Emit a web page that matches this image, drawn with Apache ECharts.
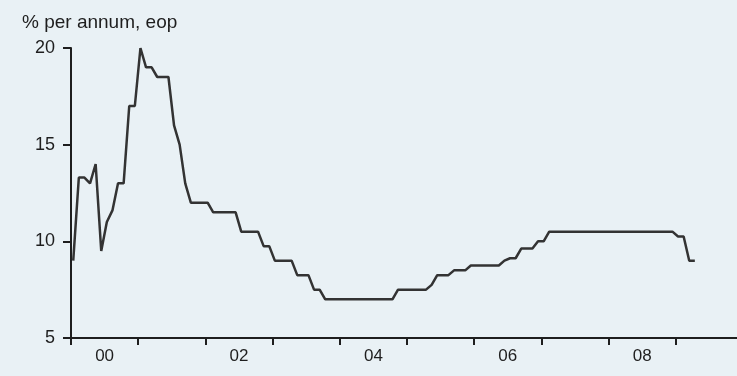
<!DOCTYPE html>
<html>
<head>
<meta charset="utf-8">
<script src="https://cdn.jsdelivr.net/npm/echarts@6/dist/echarts.min.js"></script>
<style>
  html, body { margin: 0; padding: 0; background: #e9f1f5; overflow: hidden; }
  #chart { width: 743px; height: 376px; }
</style>
</head>
<body>
<div id="chart"></div>
<script>
// === Data === //
const unitLabel = '% per annum, eop'
const yearLabels = ['00', '01', '02', '03', '04', '05', '06', '07', '08', '09']
const startYear = 2000
const yTicks = [5, 10, 15, 20]

// monthly rate, Jan 2000 onwards
const rates = [
  9.0, 13.3, 13.3, 13.0, 14.0, 9.5, 11.0, 11.6, 13.0, 13.0, 17.0, 17.0,
  20.0, 19.0, 19.0, 18.5, 18.5, 18.5, 16.0, 15.0, 13.0, 12.0, 12.0, 12.0,
  12.0, 11.5, 11.5, 11.5, 11.5, 11.5, 10.5, 10.5, 10.5, 10.5, 9.75, 9.75,
  9.0, 9.0, 9.0, 9.0, 8.25, 8.25, 8.25, 7.5, 7.5, 7.0, 7.0, 7.0,
  7.0, 7.0, 7.0, 7.0, 7.0, 7.0, 7.0, 7.0, 7.0, 7.0, 7.5, 7.5,
  7.5, 7.5, 7.5, 7.5, 7.75, 8.25, 8.25, 8.25, 8.5, 8.5, 8.5, 8.75,
  8.75, 8.75, 8.75, 8.75, 8.75, 9.0, 9.125, 9.125, 9.625, 9.625, 9.625, 10.0,
  10.0, 10.5, 10.5, 10.5, 10.5, 10.5, 10.5, 10.5, 10.5, 10.5, 10.5, 10.5,
  10.5, 10.5, 10.5, 10.5, 10.5, 10.5, 10.5, 10.5, 10.5, 10.5, 10.5, 10.5,
  10.25, 10.25, 9.0, 9.0
]

const ink = '#1e1e1e'
const font = "'Liberation Sans', Arial, sans-serif"

// mid-month positions on a year scale
const points = rates.map((v, i) => [startYear + (i + 0.4) / 12, v])

const myChart = echarts.init(document.getElementById('chart'))

myChart.setOption({
  animation: false,
  backgroundColor: '#e9f1f5',
  title: {
    text: unitLabel,
    left: 17,
    top: 8,
    textStyle: { fontFamily: font, fontSize: 19, fontWeight: 'normal', color: ink }
  },
  grid: { left: 71, top: 48, right: 0, bottom: 38 },
  xAxis: [
    {
      type: 'value',
      min: startYear,
      max: startYear + yearLabels.length,
      interval: 1,
      axisLine: { lineStyle: { color: ink, width: 2 } },
      axisTick: { show: true, length: 7, lineStyle: { color: ink, width: 2 } },
      axisLabel: { show: false },
      splitLine: { show: false }
    },
    {
      type: 'category',
      position: 'bottom',
      data: yearLabels,
      boundaryGap: true,
      axisLine: { show: false },
      axisTick: { show: false },
      axisLabel: { interval: 1, margin: 10, fontFamily: font, fontSize: 17, color: ink }
    }
  ],
  yAxis: {
    type: 'value',
    min: yTicks[0],
    max: yTicks[yTicks.length - 1],
    interval: 5,
    axisLine: { show: true, lineStyle: { color: ink, width: 2 } },
    axisTick: { show: true, length: 8, lineStyle: { color: ink, width: 2 } },
    axisLabel: { margin: 16, fontFamily: font, fontSize: 18, color: ink },
    splitLine: { show: false }
  },
  series: [
    {
      type: 'line',
      xAxisIndex: 0,
      data: points,
      symbol: 'none',
      lineStyle: { color: '#333333', width: 2.5 }
    }
  ]
})
</script>
</body>
</html>
